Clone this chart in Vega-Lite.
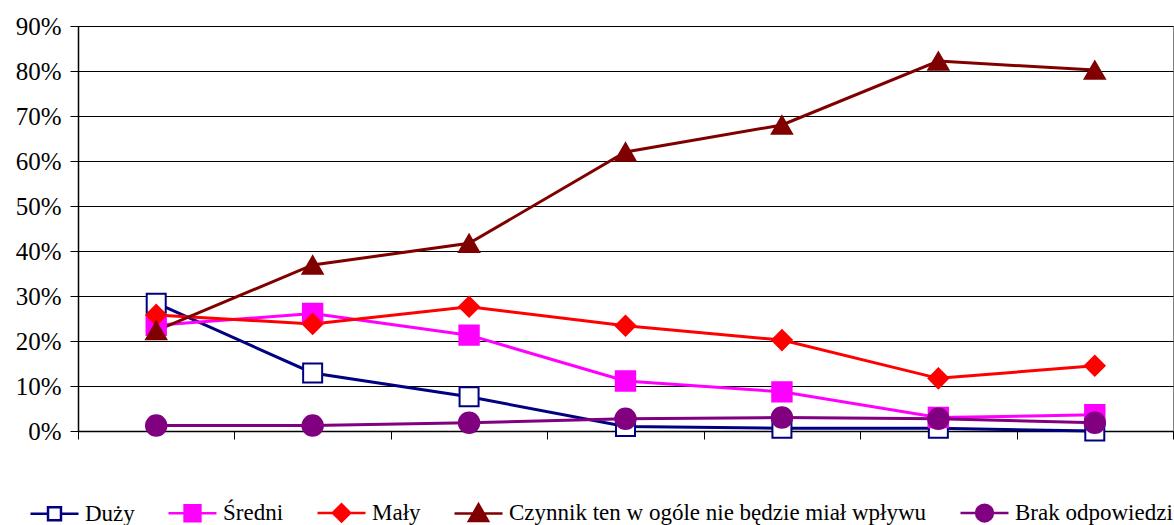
{
  "$schema": "https://vega.github.io/schema/vega-lite/v6.json",
  "width": 1095,
  "height": 405,
  "autosize": {"type": "none"},
  "padding": {"left": 78, "top": 26, "right": 1, "bottom": 94},
  "background": "white",
  "config": {
    "font": "Liberation Serif",
    "view": {"stroke": "#808080", "strokeWidth": 1}
  },
  "data": {
    "values": [
      {"cat": "1", "series": "Duży", "value": 0.284},
      {"cat": "2", "series": "Duży", "value": 0.129},
      {"cat": "3", "series": "Duży", "value": 0.076},
      {"cat": "4", "series": "Duży", "value": 0.010},
      {"cat": "5", "series": "Duży", "value": 0.006},
      {"cat": "6", "series": "Duży", "value": 0.006},
      {"cat": "7", "series": "Duży", "value": 0.0},
      {"cat": "1", "series": "Średni", "value": 0.235},
      {"cat": "2", "series": "Średni", "value": 0.261},
      {"cat": "3", "series": "Średni", "value": 0.213},
      {"cat": "4", "series": "Średni", "value": 0.111},
      {"cat": "5", "series": "Średni", "value": 0.087},
      {"cat": "6", "series": "Średni", "value": 0.030},
      {"cat": "7", "series": "Średni", "value": 0.036},
      {"cat": "1", "series": "Mały", "value": 0.258},
      {"cat": "2", "series": "Mały", "value": 0.238},
      {"cat": "3", "series": "Mały", "value": 0.276},
      {"cat": "4", "series": "Mały", "value": 0.234},
      {"cat": "5", "series": "Mały", "value": 0.202},
      {"cat": "6", "series": "Mały", "value": 0.117},
      {"cat": "7", "series": "Mały", "value": 0.145},
      {"cat": "1", "series": "Czynnik ten w ogóle nie będzie miał wpływu", "value": 0.223},
      {"cat": "2", "series": "Czynnik ten w ogóle nie będzie miał wpływu", "value": 0.369},
      {"cat": "3", "series": "Czynnik ten w ogóle nie będzie miał wpływu", "value": 0.417},
      {"cat": "4", "series": "Czynnik ten w ogóle nie będzie miał wpływu", "value": 0.620},
      {"cat": "5", "series": "Czynnik ten w ogóle nie będzie miał wpływu", "value": 0.680},
      {"cat": "6", "series": "Czynnik ten w ogóle nie będzie miał wpływu", "value": 0.822},
      {"cat": "7", "series": "Czynnik ten w ogóle nie będzie miał wpływu", "value": 0.802},
      {"cat": "1", "series": "Brak odpowiedzi", "value": 0.012},
      {"cat": "2", "series": "Brak odpowiedzi", "value": 0.012},
      {"cat": "3", "series": "Brak odpowiedzi", "value": 0.0185},
      {"cat": "4", "series": "Brak odpowiedzi", "value": 0.027},
      {"cat": "5", "series": "Brak odpowiedzi", "value": 0.030},
      {"cat": "6", "series": "Brak odpowiedzi", "value": 0.027},
      {"cat": "7", "series": "Brak odpowiedzi", "value": 0.0185}
    ]
  },
  "encoding": {
    "x": {
      "field": "cat",
      "type": "ordinal",
      "scale": {"type": "band", "paddingInner": 0, "paddingOuter": 0},
      "axis": {
        "title": null,
        "labels": false,
        "grid": false,
        "tickBand": "extent",
        "ticks": true,
        "tickSize": 8,
        "tickColor": "black",
        "tickWidth": 1,
        "domainColor": "black",
        "domainWidth": 1.5
      }
    },
    "y": {
      "field": "value",
      "type": "quantitative",
      "scale": {"domain": [0, 0.9], "nice": false},
      "axis": {
        "title": null,
        "values": [0, 0.1, 0.2, 0.3, 0.4, 0.5, 0.6, 0.7, 0.8, 0.9],
        "format": ".0%",
        "labelFont": "Liberation Serif",
        "labelFontSize": 25,
        "labelColor": "black",
        "labelPadding": 9,
        "tickSize": 8,
        "tickColor": "black",
        "domainColor": "black",
        "domainWidth": 1.5,
        "grid": true,
        "gridColor": "black",
        "gridWidth": 1
      }
    }
  },
  "layer": [
    {
      "mark": {"type": "line", "strokeWidth": 3},
      "encoding": {
        "stroke": {
          "field": "series",
          "type": "nominal",
          "scale": {
            "domain": ["Duży", "Średni", "Mały", "Czynnik ten w ogóle nie będzie miał wpływu", "Brak odpowiedzi"],
            "range": ["#000080", "#FF00FF", "#FF0000", "#800000", "#800080"]
          },
          "legend": null
        }
      }
    },
    {
      "mark": {"type": "point", "filled": true, "opacity": 1, "strokeWidth": 2},
      "encoding": {
        "shape": {
          "field": "series",
          "type": "nominal",
          "scale": {
            "domain": ["Duży", "Średni", "Mały", "Czynnik ten w ogóle nie będzie miał wpływu", "Brak odpowiedzi"],
            "range": ["square", "square", "diamond", "triangle-up", "circle"]
          },
          "legend": null
        },
        "fill": {
          "field": "series",
          "type": "nominal",
          "scale": {
            "domain": ["Duży", "Średni", "Mały", "Czynnik ten w ogóle nie będzie miał wpływu", "Brak odpowiedzi"],
            "range": ["#FFFFFF", "#FF00FF", "#FF0000", "#800000", "#800080"]
          },
          "legend": null
        },
        "stroke": {
          "field": "series",
          "type": "nominal",
          "scale": {
            "domain": ["Duży", "Średni", "Mały", "Czynnik ten w ogóle nie będzie miał wpływu", "Brak odpowiedzi"],
            "range": ["#000080", "#FF00FF", "#FF0000", "#800000", "#800080"]
          },
          "legend": null
        },
        "size": {
          "field": "series",
          "type": "nominal",
          "scale": {
            "domain": ["Duży", "Średni", "Mały", "Czynnik ten w ogóle nie będzie miał wpływu", "Brak odpowiedzi"],
            "range": [361, 420, 430, 530, 441]
          },
          "legend": null
        }
      }
    },
    {
      "transform": [{"filter": "datum.cat == 'none'"}],
      "mark": {"type": "point", "filled": true, "opacity": 1, "strokeWidth": 2.5},
      "encoding": {
        "shape": {
          "field": "series",
          "type": "nominal",
          "scale": {
            "domain": ["Duży", "Średni", "Mały", "Czynnik ten w ogóle nie będzie miał wpływu", "Brak odpowiedzi"],
            "range": [
              "M-1,0H-0.27M0.27,0H1M-0.27,-0.27H0.27V0.27H-0.27Z",
              "M-1,0H1M-0.33,-0.33H0.33V0.33H-0.33Z",
              "M-1,0H1M-0.36,0L0,-0.36L0.36,0L0,0.36Z",
              "M-1,0H1M-0.4,0.32L0,-0.38L0.4,0.32Z",
              "M-1,0H1M0.35,0A0.35,0.35,0,1,1,-0.35,0A0.35,0.35,0,1,1,0.35,0Z"
            ]
          },
          "legend": {
            "title": null,
            "orient": "none",
            "legendX": -49,
            "legendY": 461,
            "direction": "horizontal",
            "padding": 0,
            "symbolSize": 2304,
            "symbolStrokeWidth": 2.5,
            "labelFont": "Liberation Serif",
            "labelFontSize": 23,
            "labelColor": "black",
            "labelOffset": 5,
            "labelLimit": 1000,
            "columnPadding": 28
          }
        },
        "fill": {
          "field": "series",
          "type": "nominal",
          "scale": {
            "domain": ["Duży", "Średni", "Mały", "Czynnik ten w ogóle nie będzie miał wpływu", "Brak odpowiedzi"],
            "range": ["#FFFFFF", "#FF00FF", "#FF0000", "#800000", "#800080"]
          }
        },
        "stroke": {
          "field": "series",
          "type": "nominal",
          "scale": {
            "domain": ["Duży", "Średni", "Mały", "Czynnik ten w ogóle nie będzie miał wpływu", "Brak odpowiedzi"],
            "range": ["#000080", "#FF00FF", "#FF0000", "#800000", "#800080"]
          }
        }
      }
    }
  ],
  "resolve": {
    "scale": {"shape": "independent", "fill": "independent", "stroke": "independent", "size": "independent"},
    "legend": {"shape": "independent", "fill": "independent", "stroke": "independent", "size": "independent"}
  }
}
